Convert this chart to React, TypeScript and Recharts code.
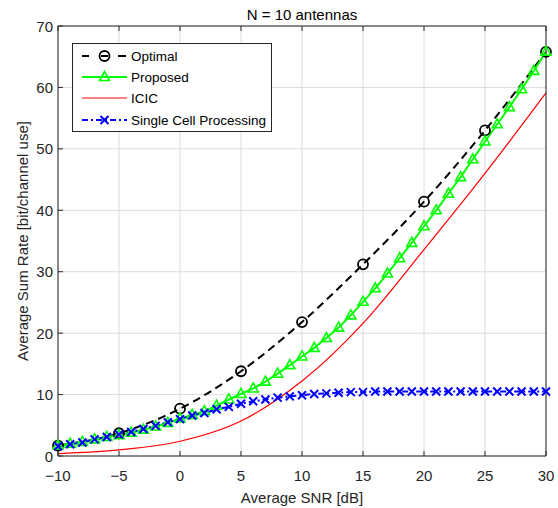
import { CartesianGrid, Label, Line, LineChart, XAxis, YAxis } from "recharts";

const FONT = '"Liberation Sans", Arial, Helvetica, sans-serif';
const AX = "#262626";

// fine grid (every 1 dB) for the marked curves
const snr = [
  -10, -9, -8, -7, -6, -5, -4, -3, -2, -1, 0, 1, 2, 3, 4, 5, 6, 7, 8, 9, 10, 11,
  12, 13, 14, 15, 16, 17, 18, 19, 20, 21, 22, 23, 24, 25, 26, 27, 28, 29, 30,
];
// coarse grid (every 5 dB)
const snrCoarse = [-10, -5, 0, 5, 10, 15, 20, 25, 30];

const optimal = [1.7, 3.7, 7.7, 13.8, 21.8, 31.2, 41.4, 53.0, 65.8];
const icic = [0.4, 1.0, 2.4, 5.7, 12.2, 21.6, 33.6, 46.0, 59.1];
const proposed = [
  1.7, 2.0, 2.3, 2.7, 3.1, 3.4, 3.8, 4.3, 4.8, 5.4, 6.1, 6.7, 7.3, 8.2, 9.2,
  10.1, 11.0, 12.1, 13.4, 14.8, 16.2, 17.6, 19.2, 20.9, 22.9, 25.1, 27.3, 29.7,
  32.2, 34.7, 37.4, 40.0, 42.7, 45.4, 48.3, 51.2, 54.0, 56.8, 59.7, 62.7, 65.8,
];
const singleCell = [
  1.6, 1.9, 2.2, 2.7, 3.1, 3.5, 3.9, 4.4, 4.9, 5.5, 6.0, 6.6, 7.0, 7.6, 8.0,
  8.5, 8.9, 9.2, 9.5, 9.7, 9.9, 10.1, 10.2, 10.3, 10.4, 10.4, 10.5, 10.5, 10.5,
  10.5, 10.5, 10.5, 10.5, 10.5, 10.5, 10.5, 10.5, 10.5, 10.5, 10.5, 10.5,
];

const xTicks = [-10, -5, 0, 5, 10, 15, 20, 25, 30];
const yTicks = [0, 10, 20, 30, 40, 50, 60, 70];

const data = snr.map((s, i) => {
  const k = snrCoarse.indexOf(s);
  return {
    snr: s,
    optimal: k >= 0 ? optimal[k] : null,
    proposed: proposed[i],
    icic: k >= 0 ? icic[k] : null,
    single: singleCell[i],
  };
});

const fmt = (v: number) => (v < 0 ? `\u2212${-v}` : `${v}`);

const tickText = { fontSize: 15, fill: AX, fontFamily: FONT };

function BottomTick({ x, y, payload }: any) {
  return (
    <g>
      <line x1={x} y1={y} x2={x} y2={y - 5} stroke={AX} />
      <text x={x} y={y + 19} textAnchor="middle" dominantBaseline="central" {...tickText}>
        {fmt(payload.value)}
      </text>
    </g>
  );
}

function TopTick({ x, y }: any) {
  return <line x1={x} y1={y} x2={x} y2={y + 5} stroke={AX} />;
}

function LeftTick({ x, y, payload }: any) {
  return (
    <g>
      <line x1={x} y1={y} x2={x + 5} y2={y} stroke={AX} />
      <text x={x - 5} y={y} textAnchor="end" dominantBaseline="central" {...tickText}>
        {fmt(payload.value)}
      </text>
    </g>
  );
}

function RightTick({ x, y }: any) {
  return <line x1={x} y1={y} x2={x - 5} y2={y} stroke={AX} />;
}

// markers
function circleDot({ cx, cy, index }: any) {
  if (cy == null || Number.isNaN(cy)) return <g key={`o${index}`} />;
  return <circle key={`o${index}`} cx={cx} cy={cy} r={5} fill="none" stroke="#000" strokeWidth={1.8} />;
}

function triangleDot({ cx, cy, index }: any) {
  if (cy == null) return <g key={`t${index}`} />;
  return (
    <path
      key={`t${index}`}
      d={`M${cx},${cy - 5.5} L${cx - 5},${cy + 3.5} L${cx + 5},${cy + 3.5} Z`}
      fill="none"
      stroke="#00ff00"
      strokeWidth={1.6}
    />
  );
}

function crossDot({ cx, cy, index }: any) {
  if (cy == null) return <g key={`x${index}`} />;
  const r = 4;
  return (
    <path
      key={`x${index}`}
      d={`M${cx - r},${cy - r} L${cx + r},${cy + r} M${cx - r},${cy + r} L${cx + r},${cy - r}`}
      stroke="#0000ff"
      strokeWidth={2}
    />
  );
}

function ChartLegend() {
  const rows = [13, 34, 55, 77];
  const x0 = 10;
  const x1 = 55;
  const mid = 32.5;
  const txt = { x: 59, fontSize: 13.5, fill: "#000", fontFamily: FONT, dominantBaseline: "central" as const };
  return (
    <svg style={{ position: "absolute", left: 72, top: 43 }} width={201} height={90}>
      <rect x={0.5} y={0.5} width={199} height={88} fill="#fff" stroke={AX} />
      <line x1={x0} y1={rows[0]} x2={x1} y2={rows[0]} stroke="#000" strokeWidth={2} strokeDasharray="7 12 7 10 8" />
      <circle cx={mid} cy={rows[0]} r={5} fill="none" stroke="#000" strokeWidth={1.8} />
      <text y={rows[0]} {...txt}>Optimal</text>

      <line x1={x0} y1={rows[1]} x2={x1} y2={rows[1]} stroke="#00ff00" strokeWidth={2} />
      <path
        d={`M${mid},${rows[1] - 5.5} L${mid - 5},${rows[1] + 3.5} L${mid + 5},${rows[1] + 3.5} Z`}
        fill="none"
        stroke="#00ff00"
        strokeWidth={1.6}
      />
      <text y={rows[1]} {...txt}>Proposed</text>

      <line x1={x0} y1={rows[2]} x2={x1} y2={rows[2]} stroke="#ff0000" strokeWidth={1} />
      <text y={rows[2]} {...txt}>ICIC</text>

      <line x1={x0} y1={rows[3]} x2={x1} y2={rows[3]} stroke="#0000ff" strokeWidth={2} strokeDasharray="6 3 2 3" />
      <path
        d={`M${mid - 4},${rows[3] - 4} L${mid + 4},${rows[3] + 4} M${mid - 4},${rows[3] + 4} L${mid + 4},${rows[3] - 4}`}
        stroke="#0000ff"
        strokeWidth={2}
      />
      <text y={rows[3]} {...txt}>Single Cell Processing</text>
    </svg>
  );
}

export default function App() {
  return (
    <div
      style={{
        position: "absolute",
        left: 0,
        top: 0,
        width: 558,
        height: 508,
        background: "#fff",
        fontFamily: FONT,
      }}
    >
      <LineChart width={558} height={508} data={data} margin={{ top: 0, right: 0, bottom: 0, left: 0 }}>
        <CartesianGrid stroke="#dcdcdc" horizontalValues={yTicks} verticalValues={xTicks} />
        <XAxis
          dataKey="snr"
          type="number"
          domain={[-10, 30]}
          ticks={xTicks}
          interval={0}
          height={52}
          tickSize={0}
          tickMargin={0}
          tickLine={false}
          axisLine={{ stroke: AX }}
          tick={<BottomTick />}
        >
          <Label
            content={({ viewBox }: any) => (
              <text
                x={viewBox.x + viewBox.width / 2}
                y={viewBox.y + 41}
                textAnchor="middle"
                dominantBaseline="central"
                fontSize={15}
                fill={AX}
                fontFamily={FONT}
              >
                Average SNR [dB]
              </text>
            )}
          />
        </XAxis>
        <XAxis
          xAxisId="top"
          orientation="top"
          dataKey="snr"
          type="number"
          domain={[-10, 30]}
          ticks={xTicks}
          interval={0}
          height={26}
          tickSize={0}
          tickMargin={0}
          tickLine={false}
          axisLine={{ stroke: AX }}
          tick={<TopTick />}
        >
          <Label
            content={({ viewBox }: any) => (
              <text
                x={viewBox.x + viewBox.width / 2}
                y={14}
                textAnchor="middle"
                dominantBaseline="central"
                fontSize={15}
                fill="#000"
                fontFamily={FONT}
              >
                N = 10 antennas
              </text>
            )}
          />
        </XAxis>
        <YAxis
          type="number"
          domain={[0, 70]}
          ticks={yTicks}
          interval={0}
          width={58}
          tickSize={0}
          tickMargin={0}
          tickLine={false}
          axisLine={{ stroke: AX }}
          tick={<LeftTick />}
        >
          <Label
            content={({ viewBox }: any) => {
              const cx = 22;
              const cy = viewBox.y + viewBox.height / 2;
              return (
                <text
                  x={cx}
                  y={cy}
                  transform={`rotate(-90 ${cx} ${cy})`}
                  textAnchor="middle"
                  dominantBaseline="central"
                  fontSize={15}
                  fill={AX}
                  fontFamily={FONT}
                >
                  Average Sum Rate [bit/channel use]
                </text>
              );
            }}
          />
        </YAxis>
        <YAxis
          yAxisId="right"
          orientation="right"
          type="number"
          domain={[0, 70]}
          ticks={yTicks}
          interval={0}
          width={12}
          tickSize={0}
          tickMargin={0}
          tickLine={false}
          axisLine={{ stroke: AX }}
          tick={<RightTick />}
        />
        <Line
          dataKey="optimal"
          type="monotone"
          connectNulls
          stroke="#000"
          strokeWidth={2}
          strokeDasharray="8 5"
          dot={circleDot}
          activeDot={false}
          isAnimationActive={false}
        />
        <Line
          dataKey="proposed"
          type="linear"
          stroke="#00ff00"
          strokeWidth={2}
          dot={triangleDot}
          activeDot={false}
          isAnimationActive={false}
        />
        <Line
          dataKey="icic"
          type="monotone"
          connectNulls
          stroke="#ff0000"
          strokeWidth={1.2}
          dot={false}
          activeDot={false}
          isAnimationActive={false}
        />
        <Line
          dataKey="single"
          type="linear"
          stroke="#0000ff"
          strokeWidth={2}
          strokeDasharray="6 3 2 3"
          dot={crossDot}
          activeDot={false}
          isAnimationActive={false}
        />
      </LineChart>
      <ChartLegend />
    </div>
  );
}
